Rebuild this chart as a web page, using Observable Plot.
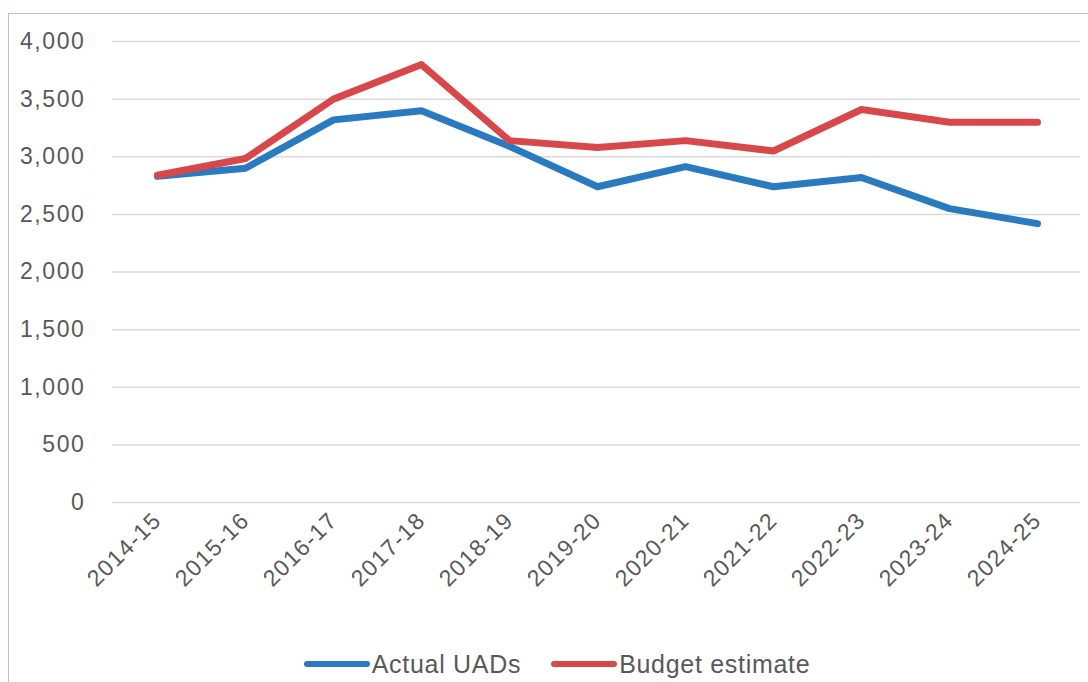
<!DOCTYPE html>
<html>
<head>
<meta charset="utf-8">
<script src="https://cdn.jsdelivr.net/npm/d3@7"></script>
<script src="https://cdn.jsdelivr.net/npm/@observablehq/plot@0.6"></script>
<style>
  html, body { margin: 0; padding: 0; background: #fff; }
  #wrap { position: relative; width: 1088px; height: 682px; overflow: hidden; }
  #frame { position: absolute; left: 8px; top: 13px; right: -4px; bottom: -4px;
           border-left: 1.5px solid #b6cab2; border-top: 1.5px solid #b6cab2; }
  #chart { position: absolute; left: 0; top: 0; }
  #legend { position: absolute; left: 13px; top: 647px; width: 1088px; height: 34px; display: flex; justify-content: center; align-items: center;
            font-family: "Liberation Sans", Arial, sans-serif; font-size: 25px; color: #595959; letter-spacing: 0.7px; }
  .item { display: flex; align-items: center; margin: 0 15px; }
  .sw { width: 66px; height: 6px; border-radius: 3px; margin-right: 2px; }
  .y-ax text { letter-spacing: 1.6px; }
  .x-ax text { letter-spacing: 1.3px; }
</style>
</head>
<body>
<div id="wrap">
  <div id="frame"></div>
  <div id="chart"></div>
  <div id="legend"></div>
</div>
<script>
const years = ["2014-15","2015-16","2016-17","2017-18","2018-19","2019-20","2020-21","2021-22","2022-23","2023-24","2024-25"];
const actualUADs = [2830, 2900, 3320, 3400, 3090, 2740, 2915, 2740, 2820, 2550, 2420];
const budgetEstimate = [2840, 2985, 3500, 3800, 3140, 3080, 3140, 3050, 3410, 3300, 3300];
const seriesNames = ["Actual UADs", "Budget estimate"];
const seriesColors = ["#2a7ac0", "#d8484a"];
const yTicks = [0, 500, 1000, 1500, 2000, 2500, 3000, 3500, 4000];

const data = [];
years.forEach((y, i) => {
  data.push({year: y, value: actualUADs[i], series: seriesNames[0]});
});
years.forEach((y, i) => {
  data.push({year: y, value: budgetEstimate[i], series: seriesNames[1]});
});

const fmt = d3.format(",");
const chart = Plot.plot({
  width: 1088,
  height: 630,
  marginLeft: 112,
  marginRight: 8,
  marginTop: 41,
  marginBottom: 128,
  style: {fontFamily: "'Liberation Sans', Arial, sans-serif", color: "#595959", background: "transparent"},
  x: {type: "point", domain: years, range: [156, 1037], padding: 0},
  y: {domain: [0, 4000]},
  color: {domain: seriesNames, range: seriesColors},
  marks: [
    Plot.ruleY(yTicks, {stroke: "#d9d9d9", strokeWidth: 1.5}),
    Plot.axisY(yTicks, {className: "y-ax", tickSize: 0, tickPadding: 27, tickFormat: fmt, fontSize: 23, fill: "#595959", label: null}),
    Plot.axisX({className: "x-ax", tickSize: 0, tickPadding: 14, tickRotate: -45, fontSize: 23, fill: "#595959", label: null}),
    Plot.line(data, {x: "year", y: "value", z: "series", stroke: "series", strokeWidth: 7, strokeLinejoin: "round", strokeLinecap: "round"})
  ]
});
document.getElementById("chart").appendChild(chart);

const legend = document.getElementById("legend");
seriesNames.forEach((name, i) => {
  const item = document.createElement("div");
  item.className = "item";
  const sw = document.createElement("div");
  sw.className = "sw";
  sw.style.background = seriesColors[i];
  const t = document.createElement("span");
  t.textContent = name;
  item.appendChild(sw);
  item.appendChild(t);
  legend.appendChild(item);
});
</script>
</body>
</html>
